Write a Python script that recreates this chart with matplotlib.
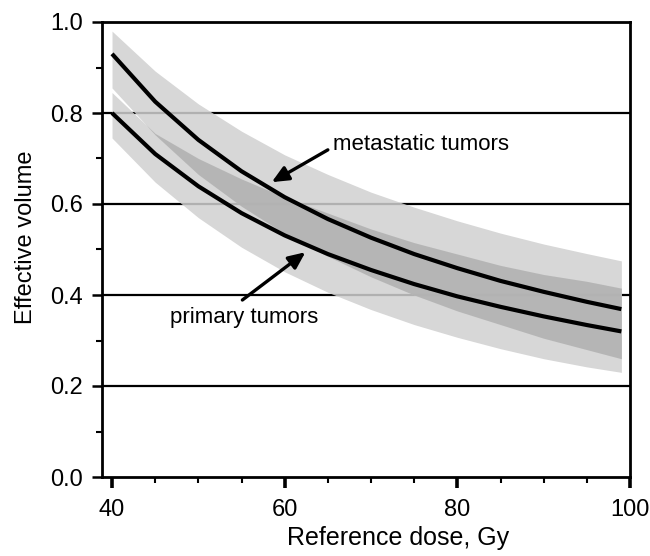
import numpy as np
import matplotlib
matplotlib.use("Agg")
import matplotlib.pyplot as plt
from matplotlib.ticker import MultipleLocator

plt.rcParams['font.family'] = ['Liberation Sans', 'DejaVu Sans']

# Data
dose = [40, 45, 50, 55, 60, 65, 70, 75, 80, 85, 90, 95, 99]
metastatic = [0.930, 0.825, 0.741, 0.672, 0.615, 0.567, 0.526, 0.490, 0.459, 0.431, 0.407, 0.385, 0.369]
primary = [0.800, 0.710, 0.639, 0.580, 0.531, 0.490, 0.455, 0.424, 0.397, 0.374, 0.353, 0.334, 0.320]
metastatic_hi = [0.980, 0.892, 0.820, 0.760, 0.708, 0.665, 0.626, 0.593, 0.563, 0.536, 0.512, 0.491, 0.475]
metastatic_lo = [0.855, 0.752, 0.665, 0.595, 0.535, 0.485, 0.440, 0.400, 0.365, 0.335, 0.305, 0.280, 0.260]
primary_hi = [0.845, 0.755, 0.700, 0.655, 0.615, 0.580, 0.545, 0.515, 0.490, 0.465, 0.445, 0.430, 0.415]
primary_lo = [0.745, 0.648, 0.570, 0.505, 0.451, 0.406, 0.368, 0.335, 0.307, 0.282, 0.260, 0.242, 0.230]

grid_levels = [0.2, 0.4, 0.6, 0.8]
x_ticks = [40, 60, 80, 100]
y_ticks = [0.0, 0.2, 0.4, 0.6, 0.8, 1.0]

fig = plt.figure(figsize=(6.5, 5.56), dpi=100)
ax = fig.add_axes([102/650, 79/556, 528/650, 455/556])

for g in grid_levels:
    ax.axhline(g, color='black', lw=1.6, zorder=1)

d = np.array(dose)
mh, ml = np.array(metastatic_hi), np.array(metastatic_lo)
ph, pl = np.array(primary_hi), np.array(primary_lo)
ax.fill_between(d, ml, mh, color='#d0d0d0', alpha=0.85, lw=0, zorder=2)
ax.fill_between(d, pl, ph, color='#d0d0d0', alpha=0.85, lw=0, zorder=2)
ax.fill_between(d, ml, ph, where=ph > ml, interpolate=True,
                color='#9a9a9a', alpha=0.5, lw=0, zorder=2)

ax.plot(dose, metastatic, color='black', lw=3, zorder=3, solid_capstyle='butt')
ax.plot(dose, primary, color='black', lw=3, zorder=3, solid_capstyle='butt')

arrow_style = dict(arrowstyle='-|>,head_length=1.0,head_width=0.45',
                   color='black', lw=2.4, shrinkA=0, shrinkB=0)
ax.annotate('', xy=(58.5, 0.648), xytext=(65.0, 0.719), arrowprops=arrow_style, zorder=4)
ax.text(65.6, 0.719, 'metastatic tumors', fontsize=16, ha='left', va='baseline', zorder=4)

ax.annotate('', xy=(62.4, 0.494), xytext=(55.1, 0.389), arrowprops=arrow_style, zorder=4)
ax.text(46.7, 0.338, 'primary tumors', fontsize=16, ha='left', va='baseline', zorder=4)

ax.set_xlim(38.84, 100)
ax.set_ylim(0, 1.0)
ax.set_xticks(x_ticks)
ax.set_yticks(y_ticks)
ax.set_yticklabels([f'{v:.1f}' for v in y_ticks])
ax.xaxis.set_minor_locator(MultipleLocator(5))
ax.yaxis.set_minor_locator(MultipleLocator(0.1))
ax.tick_params(axis='both', which='major', direction='out', length=7.5, width=1.8,
               labelsize=17, color='black')
ax.tick_params(axis='x', which='major', pad=8, width=2.6, length=8)
ax.tick_params(axis='y', which='major', pad=6)
ax.tick_params(axis='both', which='minor', direction='out', length=4, width=1.5)
ax.tick_params(top=False, right=False, which='both')

for s in ax.spines.values():
    s.set_linewidth(2)
    s.set_color('black')

ax.set_xlabel('Reference dose, Gy', fontsize=18)
ax.xaxis.label.set_va('baseline')
ax.xaxis.set_label_coords(0.561, -0.1495)
ax.set_ylabel('Effective volume', fontsize=17)
ax.yaxis.label.set_va('baseline')
ax.yaxis.set_label_coords(-0.1326, 0.527)

fig.savefig('out.png', dpi=100)
